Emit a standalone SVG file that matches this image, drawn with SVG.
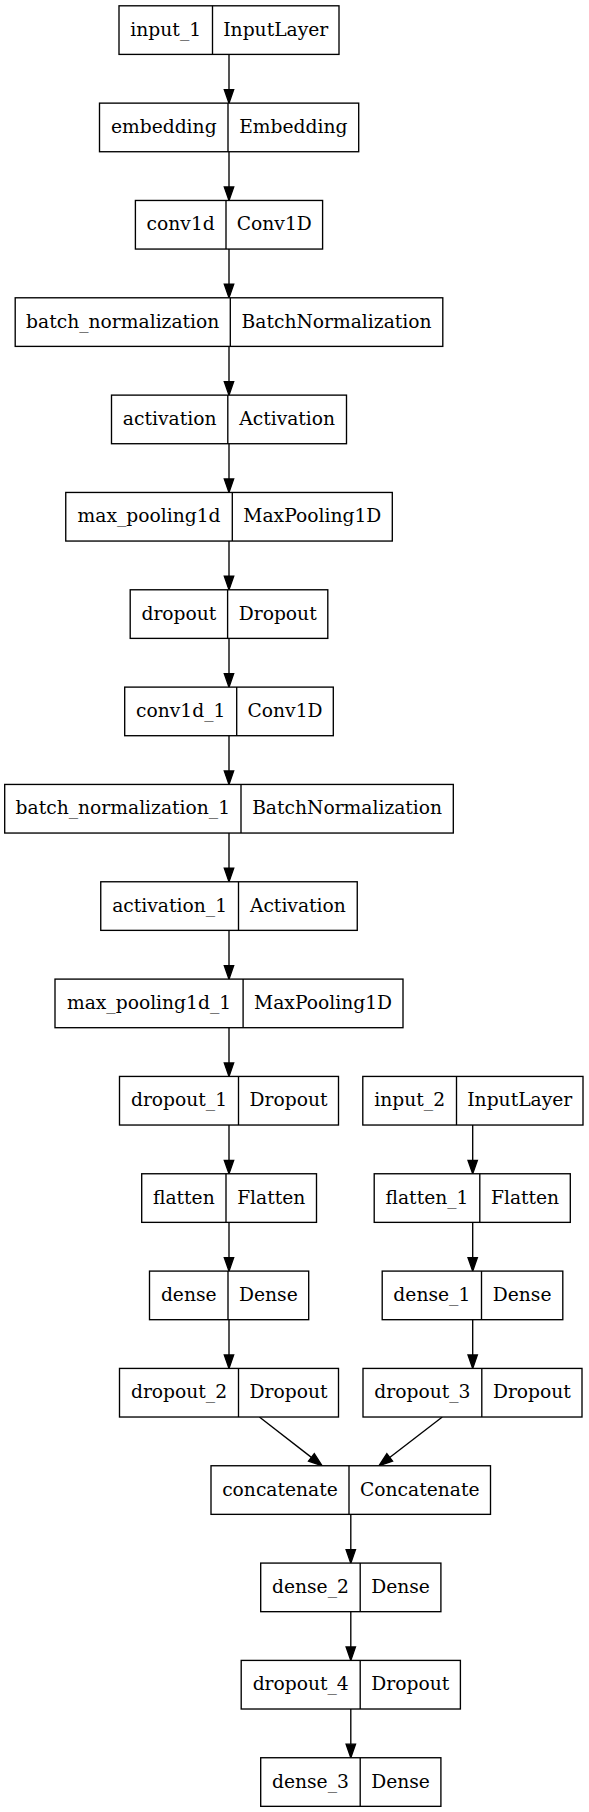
<svg xmlns="http://www.w3.org/2000/svg" width="589" height="1812" viewBox="0 0 589 1812">
<style>
.b{fill:#fff;stroke:#000;stroke-width:1.35}
.d{stroke:#000;stroke-width:1.35}
text{font-family:"DejaVu Serif","Liberation Serif",serif;font-size:18.7px;fill:#000;text-anchor:middle}
.e{stroke:#000;stroke-width:1.35;fill:none;marker-end:url(#ah)}
</style>
<defs>
<marker id="ah" markerUnits="userSpaceOnUse" markerWidth="14" markerHeight="10" refX="0" refY="4.7" orient="auto" overflow="visible">
<path d="M0,0 L13.5,4.7 L0,9.4 Z" fill="#000" stroke="#000" stroke-width="1.35"/>
</marker>
</defs>
<rect width="589" height="1812" fill="#fff"/>
<g id="connectors">
<path class="e" d="M229,54.4 V89.6"/>
<path class="e" d="M229,151.7 V187"/>
<path class="e" d="M229,249.1 V284.3"/>
<path class="e" d="M229,346.4 V381.6"/>
<path class="e" d="M229,443.7 V478.9"/>
<path class="e" d="M229,541 V576.3"/>
<path class="e" d="M229,638.4 V673.6"/>
<path class="e" d="M229,735.7 V770.9"/>
<path class="e" d="M229,833 V868.3"/>
<path class="e" d="M229,930.4 V965.6"/>
<path class="e" d="M229,1027.7 V1062.9"/>
<path class="e" d="M229,1125 V1160.3"/>
<path class="e" d="M229,1222.4 V1257.6"/>
<path class="e" d="M229,1319.7 V1354.9"/>
<path class="e" d="M472.7,1125 V1160.3"/>
<path class="e" d="M472.7,1222.4 V1257.6"/>
<path class="e" d="M472.7,1319.7 V1354.9"/>
<path class="e" d="M259.4,1417 L311.4,1457.4"/>
<path class="e" d="M442.3,1417 L389.7,1457.5"/>
<path class="e" d="M350.8,1514.4 V1549.6"/>
<path class="e" d="M350.8,1611.7 V1646.9"/>
<path class="e" d="M350.8,1709 V1744.2"/>
</g>
<g id="input_1"><rect class="b" x="119" y="5.8" width="220" height="48.6"/><line class="d" x1="212.5" y1="5.8" x2="212.5" y2="54.4"/><text x="165.75" y="35.8">input_1</text><text x="275.75" y="35.8">InputLayer</text></g>
<g id="embedding"><rect class="b" x="99.5" y="103.13" width="259.2" height="48.6"/><line class="d" x1="228" y1="103.13" x2="228" y2="151.73"/><text x="163.75" y="133.13">embedding</text><text x="293.35" y="133.13">Embedding</text></g>
<g id="conv1d"><rect class="b" x="135.4" y="200.46" width="187.2" height="48.6"/><line class="d" x1="226" y1="200.46" x2="226" y2="249.06"/><text x="180.7" y="230.46">conv1d</text><text x="274.3" y="230.46">Conv1D</text></g>
<g id="batch_normalization"><rect class="b" x="15.2" y="297.79" width="427.6" height="48.6"/><line class="d" x1="230.3" y1="297.79" x2="230.3" y2="346.39"/><text x="122.75" y="327.79">batch_normalization</text><text x="336.55" y="327.79">BatchNormalization</text></g>
<g id="activation"><rect class="b" x="111.5" y="395.12" width="235" height="48.6"/><line class="d" x1="227.8" y1="395.12" x2="227.8" y2="443.72"/><text x="169.65" y="425.12">activation</text><text x="287.15" y="425.12">Activation</text></g>
<g id="max_pooling1d"><rect class="b" x="65.75" y="492.45" width="326.55" height="48.6"/><line class="d" x1="232.3" y1="492.45" x2="232.3" y2="541.05"/><text x="149.03" y="522.45">max_pooling1d</text><text x="312.3" y="522.45">MaxPooling1D</text></g>
<g id="dropout"><rect class="b" x="130.2" y="589.78" width="197.6" height="48.6"/><line class="d" x1="227.6" y1="589.78" x2="227.6" y2="638.38"/><text x="178.9" y="619.78">dropout</text><text x="277.7" y="619.78">Dropout</text></g>
<g id="conv1d_1"><rect class="b" x="124.7" y="687.11" width="208.6" height="48.6"/><line class="d" x1="236.7" y1="687.11" x2="236.7" y2="735.71"/><text x="180.7" y="717.11">conv1d_1</text><text x="285" y="717.11">Conv1D</text></g>
<g id="batch_normalization_1"><rect class="b" x="4.7" y="784.44" width="448.6" height="48.6"/><line class="d" x1="241" y1="784.44" x2="241" y2="833.04"/><text x="122.85" y="814.44">batch_normalization_1</text><text x="347.15" y="814.44">BatchNormalization</text></g>
<g id="activation_1"><rect class="b" x="100.75" y="881.77" width="256.5" height="48.6"/><line class="d" x1="238.5" y1="881.77" x2="238.5" y2="930.37"/><text x="169.63" y="911.77">activation_1</text><text x="297.88" y="911.77">Activation</text></g>
<g id="max_pooling1d_1"><rect class="b" x="55" y="979.1" width="348" height="48.6"/><line class="d" x1="243.1" y1="979.1" x2="243.1" y2="1027.7"/><text x="149.05" y="1009.1">max_pooling1d_1</text><text x="323.05" y="1009.1">MaxPooling1D</text></g>
<g id="dropout_1"><rect class="b" x="119.5" y="1076.43" width="219" height="48.6"/><line class="d" x1="238.5" y1="1076.43" x2="238.5" y2="1125.03"/><text x="179" y="1106.43">dropout_1</text><text x="288.5" y="1106.43">Dropout</text></g>
<g id="input_2"><rect class="b" x="362.8" y="1076.43" width="220.2" height="48.6"/><line class="d" x1="456.5" y1="1076.43" x2="456.5" y2="1125.03"/><text x="409.65" y="1106.43">input_2</text><text x="519.75" y="1106.43">InputLayer</text></g>
<g id="flatten"><rect class="b" x="141.7" y="1173.76" width="174.8" height="48.6"/><line class="d" x1="226" y1="1173.76" x2="226" y2="1222.36"/><text x="183.85" y="1203.76">flatten</text><text x="271.25" y="1203.76">Flatten</text></g>
<g id="flatten_1"><rect class="b" x="374.2" y="1173.76" width="196.1" height="48.6"/><line class="d" x1="479.8" y1="1173.76" x2="479.8" y2="1222.36"/><text x="427" y="1203.76">flatten_1</text><text x="525.05" y="1203.76">Flatten</text></g>
<g id="dense"><rect class="b" x="149.5" y="1271.09" width="159.2" height="48.6"/><line class="d" x1="228" y1="1271.09" x2="228" y2="1319.69"/><text x="188.75" y="1301.09">dense</text><text x="268.35" y="1301.09">Dense</text></g>
<g id="dense_1"><rect class="b" x="382.2" y="1271.09" width="180.6" height="48.6"/><line class="d" x1="481.5" y1="1271.09" x2="481.5" y2="1319.69"/><text x="431.85" y="1301.09">dense_1</text><text x="522.15" y="1301.09">Dense</text></g>
<g id="dropout_2"><rect class="b" x="119.5" y="1368.42" width="219" height="48.6"/><line class="d" x1="238.5" y1="1368.42" x2="238.5" y2="1417.02"/><text x="179" y="1398.42">dropout_2</text><text x="288.5" y="1398.42">Dropout</text></g>
<g id="dropout_3"><rect class="b" x="363" y="1368.42" width="219" height="48.6"/><line class="d" x1="481.8" y1="1368.42" x2="481.8" y2="1417.02"/><text x="422.4" y="1398.42">dropout_3</text><text x="531.9" y="1398.42">Dropout</text></g>
<g id="concatenate"><rect class="b" x="211" y="1465.75" width="279.5" height="48.6"/><line class="d" x1="349" y1="1465.75" x2="349" y2="1514.35"/><text x="280" y="1495.75">concatenate</text><text x="419.75" y="1495.75">Concatenate</text></g>
<g id="dense_2"><rect class="b" x="260.7" y="1563.08" width="180.2" height="48.6"/><line class="d" x1="360.2" y1="1563.08" x2="360.2" y2="1611.68"/><text x="310.45" y="1593.08">dense_2</text><text x="400.55" y="1593.08">Dense</text></g>
<g id="dropout_4"><rect class="b" x="241.2" y="1660.41" width="219.2" height="48.6"/><line class="d" x1="360.2" y1="1660.41" x2="360.2" y2="1709.01"/><text x="300.7" y="1690.41">dropout_4</text><text x="410.3" y="1690.41">Dropout</text></g>
<g id="dense_3"><rect class="b" x="260.7" y="1757.74" width="180.2" height="48.6"/><line class="d" x1="360.2" y1="1757.74" x2="360.2" y2="1806.34"/><text x="310.45" y="1787.74">dense_3</text><text x="400.55" y="1787.74">Dense</text></g>
</svg>
